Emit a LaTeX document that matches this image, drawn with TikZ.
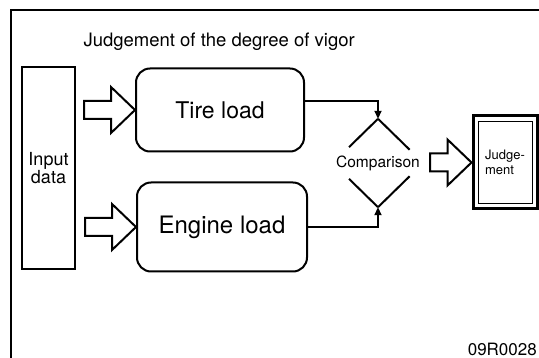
\documentclass[tikz,border=0pt]{standalone}
\usepackage{fontspec}
\setmainfont{TeX Gyre Heros}
\usetikzlibrary{arrows.meta,calc,positioning}

\tikzset{
  blockbox/.style={draw,line width=2pt,rounded corners=14pt,inner sep=0pt},
  hollow/.style={draw,line width=2pt,fill=white,line join=miter},
  feed/.style={line width=1.8pt,-{Triangle[width=7pt,length=8pt]}},
}
\newcommand{\hollowarrow}[2]{% tail, tip
  \draw[hollow] let \p1=#1, \p2=#2 in
    (\x1,\y2+9pt) -- (\x2-24pt,\y2+9pt) -- (\x2-24pt,\y2+23pt) -- (\x2,\y2)
    -- (\x2-24pt,\y2-23pt) -- (\x2-24pt,\y2-9pt) -- (\x1,\y2-9pt) -- cycle;}

\begin{document}
\begin{tikzpicture}[x=1pt,y=-1pt]
  \useasboundingbox (0,0) rectangle (539,358);
  \clip (0,0) rectangle (539,358);
  \draw[line width=1.6pt] (11,10) rectangle (570,390);

  \node[anchor=base west,font=\fontsize{18.5}{20}\selectfont] (title) at (80,47)
    {Judgement of the degree of vigor};

  % blocks
  \node[draw,line width=2pt,minimum width=53pt,minimum height=202pt,inner sep=0pt,
    align=center,font=\fontsize{18}{18}\selectfont] (input) at (48.5,168) {Input\\data};
  \node[blockbox,minimum width=168pt,minimum height=83pt,font=\fontsize{23}{26}\selectfont]
    (tire) at (220,110) {Tire load};
  \node[blockbox,minimum width=170pt,minimum height=89pt,font=\fontsize{24}{26}\selectfont]
    (engine) at (222,227) {Engine load};
  \node[minimum width=90pt,minimum height=88pt,inner sep=0pt,font=\fontsize{15.5}{16}\selectfont]
    (cmp) at (378,163) {Comparison};
  \node[draw,line width=3pt,minimum width=64pt,minimum height=93pt,inner sep=0pt,
    align=left,font=\fontsize{13}{15}\selectfont] (judge) at (505,162.5) {Judge-\\ment};
  \draw[line width=1.2pt] ([shift={(7,7)}]judge.north west) rectangle ([shift={(-6,-7)}]judge.south east);

  % diamond, open round the text
  \foreach \v/\h/\f in {north/west/0.64, north/east/0.7, south/west/0.64, south/east/0.7}
    \draw[line width=2pt] (cmp.\v) -- ($(cmp.\v)!\f!(cmp.\h)$);

  % connectors
  \coordinate (tireTail) at ($(tire.west)+(-51,0)$);
  \coordinate (engineTail) at ($(engine.west)+(-51,0)$);
  \coordinate (cmpTail) at ($(cmp.east)+(7,0)$);
  \hollowarrow{(tireTail)}{(tire.west)}
  \hollowarrow{(engineTail)}{(engine.west)}
  \hollowarrow{(cmpTail)}{(judge.west)}
  \draw[feed] ([shift={(0,-9)}]tire.east) -| (cmp.north);
  \draw[feed] (engine.east) -| (cmp.south);

  \node[anchor=south east,inner sep=0pt,font=\fontsize{17}{18}\selectfont] (code) at (537,356) {09R0028};
\end{tikzpicture}
\end{document}
